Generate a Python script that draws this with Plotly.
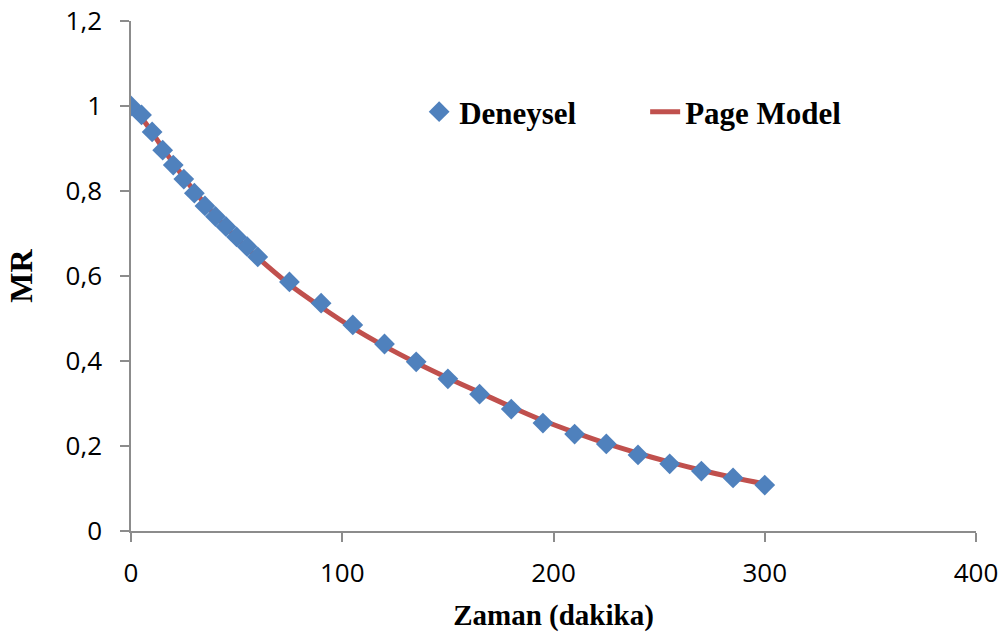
import plotly.graph_objects as go

# Drying time (minutes) and measured moisture ratio
zaman = [0, 5, 10, 15, 20, 25, 30, 35, 40, 45, 50, 55, 60, 75, 90, 105, 120,
         135, 150, 165, 180, 195, 210, 225, 240, 255, 270, 285, 300]
mr_deneysel = [1.0, 0.979, 0.939, 0.896, 0.861, 0.828, 0.795, 0.765, 0.740,
               0.716, 0.692, 0.669, 0.645, 0.586, 0.536, 0.485, 0.440, 0.398,
               0.358, 0.322, 0.287, 0.254, 0.228, 0.205, 0.179, 0.158, 0.141,
               0.125, 0.108]

# Page model predictions at the same times
mr_page = [1.0, 0.972, 0.938, 0.901, 0.866, 0.832, 0.800, 0.770, 0.742,
           0.715, 0.690, 0.666, 0.643, 0.580, 0.527, 0.478, 0.435, 0.396,
           0.360, 0.326, 0.292, 0.260, 0.232, 0.206, 0.183, 0.162, 0.143,
           0.126, 0.111]

x_ticks = [0, 100, 200, 300, 400]
y_ticks = [0, 0.2, 0.4, 0.6, 0.8, 1.0, 1.2]
y_tick_text = ["0", "0,2", "0,4", "0,6", "0,8", "1", "1,2"]

fig = go.Figure()
fig.add_trace(go.Scatter(
    x=zaman, y=mr_page, mode="lines", name="<b>Page Model</b>",
    line=dict(color="#C0504D", width=5, shape="spline"),
))
fig.add_trace(go.Scatter(
    x=zaman, y=mr_deneysel, mode="markers", name="<b>Deneysel</b>",
    marker=dict(symbol="diamond", size=16, color="#4F81BD"),
))

axis_line = dict(showline=True, linecolor="#8C8C8C", linewidth=1.5,
                 ticks="outside", tickcolor="#8C8C8C", ticklen=9, tickwidth=1.5,
                 showgrid=False, zeroline=False, automargin=False)

tick_font = dict(family="Open Sans", size=26, color="black")
title_font = dict(family="Liberation Serif", size=29, color="black")

fig.update_layout(
    width=1006, height=640,
    margin=dict(l=131, r=30, t=21, b=109),
    plot_bgcolor="white", paper_bgcolor="white",
    showlegend=True,
    legend=dict(
        orientation="h", x=0.341, y=0.8216, xanchor="left", yanchor="middle",
        font=dict(family="Liberation Serif", size=31, color="black"),
        traceorder="reversed", entrywidth=181, entrywidthmode="pixels",
        bgcolor="rgba(0,0,0,0)",
    ),
    xaxis=dict(
        range=[0, 400], tickvals=x_ticks, tickfont=tick_font,
        ticklabelstandoff=9,
        title=dict(text="<b>Zaman (dakika)</b>", standoff=16, font=title_font),
        **axis_line,
    ),
    yaxis=dict(
        range=[0, 1.2], tickvals=y_ticks, ticktext=y_tick_text, tickfont=tick_font,
        ticklabelstandoff=13,
        title=dict(text="<b>MR</b>", standoff=23,
                   font=dict(family="Liberation Serif", size=32, color="black")),
        **axis_line,
    ),
)

fig.write_html("out.html")
